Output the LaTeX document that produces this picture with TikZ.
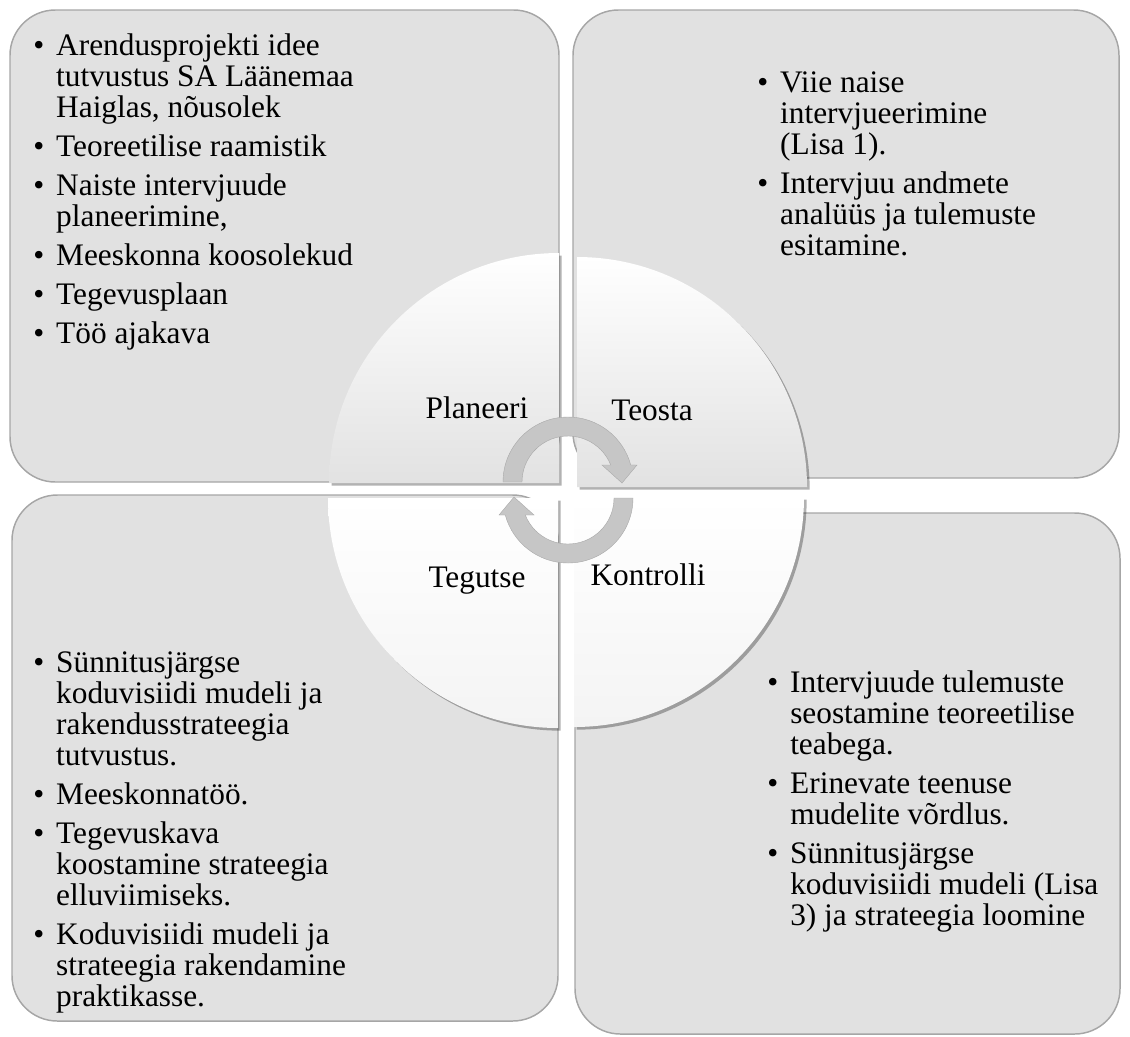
\documentclass[tikz,border=0pt]{standalone}
\usepackage{fontspec}
\setmainfont{Liberation Serif}
\usetikzlibrary{shadows}
\definecolor{vboxgray}{HTML}{E1E1E1}
\definecolor{vlinegray}{HTML}{A6A6A6}
\definecolor{varrowgray}{HTML}{C6C6C6}
\definecolor{vshadegray}{HTML}{E2E2E2}
\definecolor{vlightgray}{HTML}{F4F4F4}

\tikzset{
	cellbox/.style={fill=vboxgray, draw=vlinegray, line width=1.1pt, rounded corners=34pt},
	wedge/.style={draw=none, drop shadow={shadow xshift=2pt, shadow yshift=-2pt, opacity=0.3, fill=black}},
	listtext/.style={anchor=base west, inner sep=0pt, font=\fontsize{23.5}{23.3}\selectfont},
	phase/.style={anchor=base, inner sep=0pt, font=\fontsize{23.5}{23.3}\selectfont},
	arrowfill/.style={fill=varrowgray, draw=varrowgray!85!black, line width=0.3pt},
}

\begin{document}
\begin{tikzpicture}[x=0.75pt, y=0.75pt]
	\useasboundingbox (0,0) rectangle (1130,-1036);
	\draw[cellbox] (10,-10) rectangle (559,-482);
	\draw[cellbox] (573,-10) rectangle (1119,-478);
	\draw[cellbox] (12,-495) rectangle (558,-1021);
	\draw[cellbox] (575,-513) rectangle (1120,-1034);

	\coordinate (ptl) at (559,-483);
	\coordinate (ptr) at (577,-487);
	\coordinate (pbl) at (558,-498);
	\coordinate (pbr) at (574,-497);
	\path[wedge, top color=white, bottom color=vshadegray] (ptl) -- ++(-230,0) arc[start angle=180, end angle=90, radius=230] -- cycle;
	\path[wedge, top color=white, bottom color=vshadegray] (ptr) -- ++(0,230) arc[start angle=90, end angle=0, radius=230] -- cycle;
	\path[wedge, top color=white, bottom color=vlightgray] (pbl) -- ++(-230,0) arc[start angle=180, end angle=270, radius=230] -- cycle;
	\path[wedge, top color=white, bottom color=vlightgray] (pbr) -- ++(230,0) arc[start angle=0, end angle=-90, radius=230] -- cycle;

	\begin{scope}[shift={(568,-482)}]
		\path[arrowfill] (180:65) arc[start angle=180, end angle=15.2, radius=65] -- (69,17) -- (54,-1) -- (34,17) -- (21.7:46) arc[start angle=21.7, end angle=180, radius=46] -- cycle;
	\end{scope}
	\begin{scope}[shift={(568,-498)}, rotate=180]
		\path[arrowfill] (180:65) arc[start angle=180, end angle=15.2, radius=65] -- (69,17) -- (54,-1) -- (34,17) -- (21.7:46) arc[start angle=21.7, end angle=180, radius=46] -- cycle;
	\end{scope}

	\node[phase] (plan) at (477,-418) {Planeeri};
	\node[phase] (teo) at (652,-420) {Teosta};
	\node[phase] (teg) at (477,-587) {Tegutse};
	\node[phase] (kon) at (648,-585) {Kontrolli};

	\node[listtext] (ltl) at (33,-55) {\begin{tabular}[t]{@{}l@{\hspace{9pt}}l@{}}
		\textbullet & Arendusprojekti idee\\
		& tutvustus SA Läänemaa\\
		& Haiglas, nõusolek\\[6pt]
		\textbullet & Teoreetilise raamistik\\[6pt]
		\textbullet & Naiste intervjuude\\
		& planeerimine,\\[6pt]
		\textbullet & Meeskonna koosolekud\\[6pt]
		\textbullet & Tegevusplaan\\[6pt]
		\textbullet & Töö ajakava
	\end{tabular}};
	\node[listtext] (ltr) at (757,-92) {\begin{tabular}[t]{@{}l@{\hspace{9pt}}l@{}}
		\textbullet & Viie naise\\
		& intervjueerimine\\
		& (Lisa 1).\\[6pt]
		\textbullet & Intervjuu andmete\\
		& analüüs ja tulemuste\\
		& esitamine.
	\end{tabular}};
	\node[listtext] (lbl) at (33,-672) {\begin{tabular}[t]{@{}l@{\hspace{9pt}}l@{}}
		\textbullet & Sünnitusjärgse\\
		& koduvisiidi mudeli ja\\
		& rakendusstrateegia\\
		& tutvustus.\\[6pt]
		\textbullet & Meeskonnatöö.\\[6pt]
		\textbullet & Tegevuskava\\
		& koostamine strateegia\\
		& elluviimiseks.\\[6pt]
		\textbullet & Koduvisiidi mudeli ja\\
		& strateegia rakendamine\\
		& praktikasse.
	\end{tabular}};
	\node[listtext] (lbr) at (767,-692) {\begin{tabular}[t]{@{}l@{\hspace{9pt}}l@{}}
		\textbullet & Intervjuude tulemuste\\
		& seostamine teoreetilise\\
		& teabega.\\[6pt]
		\textbullet & Erinevate teenuse\\
		& mudelite võrdlus.\\[6pt]
		\textbullet & Sünnitusjärgse\\
		& koduvisiidi mudeli (Lisa\\
		& 3) ja strateegia loomine
	\end{tabular}};
\end{tikzpicture}
\end{document}
